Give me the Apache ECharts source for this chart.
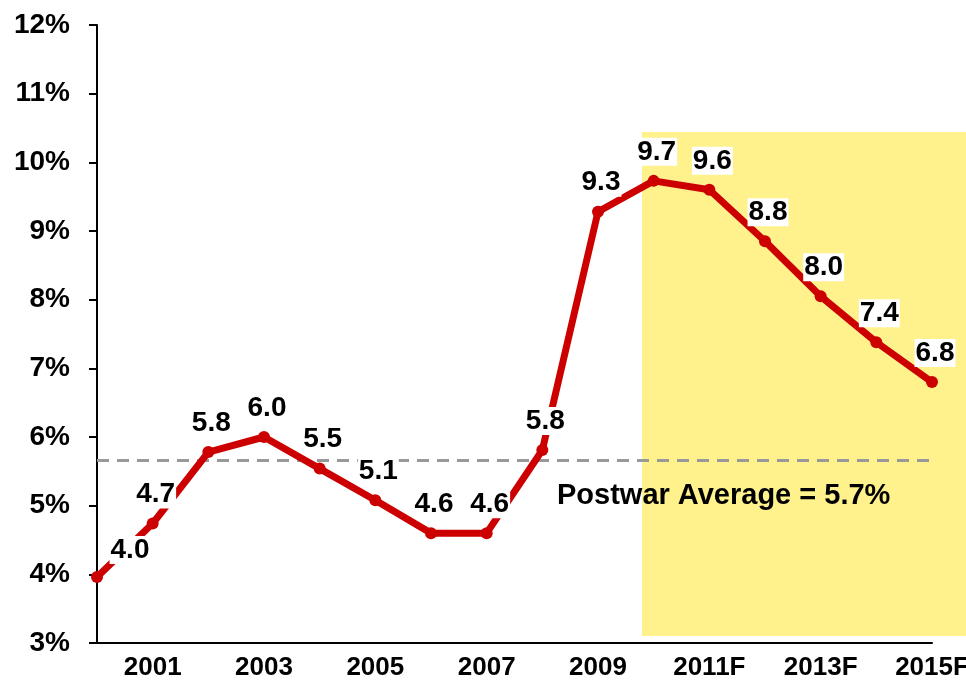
<!DOCTYPE html>
<html>
<head>
<meta charset="utf-8">
<script src="https://cdn.jsdelivr.net/npm/echarts@6.0.0/dist/echarts.min.js"></script>
</head>
<body style="margin:0; padding:0; background:#fff;">
<div id="chart" style="width: 966px; height: 684px;"></div>
<script type="text/javascript">
// unemployment rate, actual + forecast
var years = ['2000', '2001', '2002', '2003', '2004', '2005', '2006', '2007',
  '2008', '2009', '2010', '2011F', '2012F', '2013F', '2014F', '2015F'];
var rates = [3.96, 4.74, 5.78, 6.0, 5.54, 5.08, 4.6, 4.6,
  5.81, 9.28, 9.73, 9.6, 8.85, 8.05, 7.38, 6.8];
var rateLabels = ['4.0', '4.7', '5.8', '6.0', '5.5', '5.1', '4.6', '4.6',
  '5.8', '9.3', '9.7', '9.6', '8.8', '8.0', '7.4', '6.8'];
var postwarAvg = 5.66;
var avgText = 'Postwar Average = 5.7%';

var font = '"Liberation Sans", Arial, sans-serif';

var seriesData = rates.map(function (v, i) {
  var item = { value: v, label: { formatter: rateLabels[i] } };
  if (i === 0) item.label.offset = [33, 2];
  return item;
});

var myChart = echarts.init(document.getElementById('chart'));
myChart.setOption({
  animation: false,
  grid: { left: 97, right: 34, top: 25, bottom: 41, containLabel: false, outerBoundsMode: 'none' },
  graphic: [
    {
      type: 'rect', z: -10,
      shape: { x: 642, y: 132, width: 324, height: 504 },
      style: { fill: '#FFF18C' }
    },
    {
      type: 'text', left: 557, top: 481, z: 10,
      style: { text: avgText, font: 'bold 29px ' + font, fill: '#000' }
    }
  ],
  xAxis: {
    type: 'category',
    data: years,
    boundaryGap: false,
    axisLine: { lineStyle: { color: '#000', width: 2 } },
    axisTick: { show: false },
    axisLabel: {
      interval: function (i) { return i % 2 === 1; },
      color: '#000', fontFamily: font, fontWeight: 'bold', fontSize: 26, margin: 12
    },
    splitLine: { show: false }
  },
  yAxis: {
    type: 'value',
    min: 3, max: 12, interval: 1,
    axisLine: { show: true, lineStyle: { color: '#000', width: 2 } },
    axisTick: { show: true, length: 8, lineStyle: { color: '#000', width: 2 } },
    axisLabel: {
      formatter: '{value}%',
      color: '#000', fontFamily: font, fontWeight: 'bold', fontSize: 28, margin: 27
    },
    splitLine: { show: false }
  },
  series: [{
    type: 'line',
    data: seriesData,
    z: 5,
    lineStyle: { color: '#CC0000', width: 7 },
    itemStyle: { color: '#CC0000' },
    symbol: 'circle',
    symbolSize: 12,
    label: {
      show: true,
      position: 'top',
      distance: 9,
      offset: [3, 0],
      color: '#000',
      fontFamily: font,
      fontWeight: 'bold',
      fontSize: 28,
      backgroundColor: '#fff',
      padding: [0, 1, 0, 1]
    },
    markLine: {
      silent: true,
      symbol: 'none',
      z: 3,
      label: { show: false },
      lineStyle: { color: '#999', width: 3, type: [12, 8] },
      data: [{ yAxis: postwarAvg }]
    }
  }]
});
</script>
</body>
</html>
